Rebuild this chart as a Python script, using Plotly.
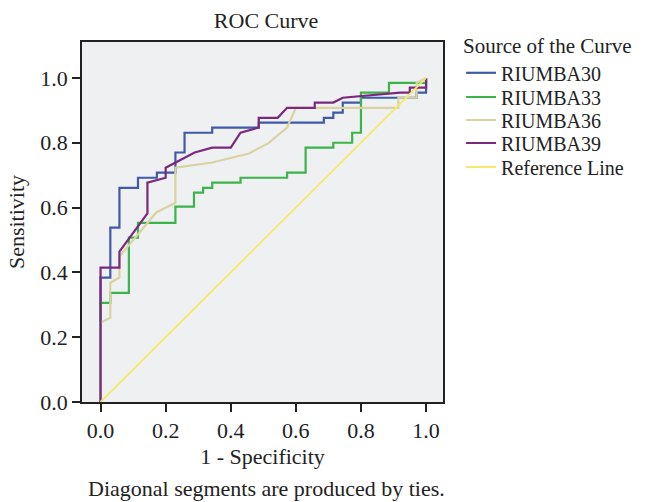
import plotly.graph_objects as go

# ROC curve data (1 - Specificity, Sensitivity)
riumba30_x = [0, 0, 0.03, 0.03, 0.058, 0.058, 0.115, 0.115, 0.173, 0.173, 0.23, 0.23, 0.258, 0.258,
              0.343, 0.343, 0.486, 0.486, 0.686, 0.686, 0.715, 0.715, 0.744, 0.744, 0.8, 0.8, 0.971, 0.971, 1.0, 1.0]
riumba30_y = [0, 0.384, 0.384, 0.538, 0.538, 0.661, 0.661, 0.692, 0.692, 0.708, 0.708, 0.77, 0.77, 0.831,
              0.831, 0.847, 0.847, 0.862, 0.862, 0.877, 0.877, 0.893, 0.893, 0.924, 0.924, 0.939, 0.939, 0.955, 0.955, 1.0]

riumba33_x = [0, 0, 0.03, 0.03, 0.087, 0.087, 0.115, 0.115, 0.23, 0.23, 0.287, 0.287, 0.315, 0.315,
              0.343, 0.343, 0.43, 0.43, 0.573, 0.573, 0.63, 0.63, 0.715, 0.715, 0.773, 0.773, 0.8, 0.8,
              0.886, 0.886, 1.0, 1.0]
riumba33_y = [0, 0.306, 0.306, 0.337, 0.337, 0.507, 0.507, 0.553, 0.553, 0.603, 0.603, 0.646, 0.646, 0.661,
              0.661, 0.677, 0.677, 0.692, 0.692, 0.708, 0.708, 0.785, 0.785, 0.8, 0.8, 0.831, 0.831, 0.955,
              0.955, 0.985, 0.985, 1.0]

riumba36_x = [0, 0, 0.03, 0.03, 0.058, 0.058, 0.171, 0.23, 0.23, 0.343, 0.456, 0.515, 0.573, 0.6,
              0.915, 0.915, 0.971, 0.971, 1.0]
riumba36_y = [0, 0.245, 0.26, 0.368, 0.384, 0.449, 0.585, 0.615, 0.723, 0.739, 0.767, 0.798, 0.847, 0.908,
              0.908, 0.939, 0.939, 0.985, 1.0]

riumba39_x = [0, 0, 0.058, 0.058, 0.144, 0.144, 0.2, 0.2, 0.289, 0.343, 0.4, 0.43, 0.486, 0.486, 0.544,
              0.573, 0.658, 0.658, 0.715, 0.744, 0.92, 0.95, 0.95, 1.0, 1.0]
riumba39_y = [0, 0.415, 0.415, 0.464, 0.582, 0.677, 0.692, 0.723, 0.77, 0.785, 0.785, 0.831, 0.847, 0.877, 0.877,
              0.908, 0.908, 0.924, 0.924, 0.939, 0.955, 0.955, 0.97, 0.97, 1.0]

ref_x = [0, 1]
ref_y = [0, 1]

series_names = ["RIUMBA30", "RIUMBA33", "RIUMBA36", "RIUMBA39", "Reference Line"]

tick_vals = [0.0, 0.2, 0.4, 0.6, 0.8, 1.0]
tick_text = ["0.0", "0.2", "0.4", "0.6", "0.8", "1.0"]

FONT = "Liberation Serif"
FS = 22
LFS = 20
TXT = "#222"

fig = go.Figure()
series = [
    (riumba30_x, riumba30_y, "#3f5aa8", 2.2),
    (riumba33_x, riumba33_y, "#3bb449", 2.2),
    (riumba36_x, riumba36_y, "#d9d3a1", 2.2),
    (riumba39_x, riumba39_y, "#7a2a7e", 2.2),
    (ref_x, ref_y, "#f3ea6a", 1.8),
]
legend_ids = ["legend", "legend2", "legend3", "legend4", "legend5"]
for name, (xs, ys, col, w), lg in zip(series_names, series, legend_ids):
    fig.add_trace(go.Scatter(x=xs, y=ys, mode="lines", name=name,
                             line=dict(color=col, width=w), legend=lg))

axis_common = dict(
    showline=True, linecolor=TXT, linewidth=1.5, mirror=True,
    ticks="outside", ticklen=8, tickwidth=1.5, tickcolor=TXT,
    showgrid=False, zeroline=False,
    tickvals=tick_vals, ticktext=tick_text,
    tickfont=dict(family=FONT, size=FS, color=TXT),
)

# plot area: top 42px, bottom 402px (height 360)
def ypaper(py):
    return (402 - py) / 360.0

LEG_X = 1.05
legend_common = dict(x=LEG_X, xanchor="left", bgcolor="rgba(0,0,0,0)", itemwidth=30,
                     font=dict(family=FONT, size=LFS, color=TXT))
item_centers = [72, 97, 120, 143, 167]

layout_legends = {}
layout_legends["legend"] = dict(
    y=ypaper(26), yanchor="top",
    title=dict(text="Source of the Curve", font=dict(family=FONT, size=LFS + 1, color=TXT)),
    **legend_common)
for lg, cy in zip(legend_ids[1:], item_centers[1:]):
    layout_legends[lg] = dict(y=ypaper(cy), yanchor="middle", **legend_common)

fig.update_layout(
    width=653, height=502,
    margin=dict(l=82, r=210, t=42, b=100),
    paper_bgcolor="white", plot_bgcolor="#eff0f2",
    font=dict(family=FONT, size=FS, color=TXT),
    title=dict(text="ROC Curve", x=0.51, xref="paper", xanchor="center",
               y=1 - 20 / 502, yref="container", yanchor="middle",
               font=dict(family=FONT, size=FS, color=TXT)),
    xaxis=dict(range=[-0.057, 1.052], title=dict(text="1 - Specificity", standoff=6,
               font=dict(family=FONT, size=FS, color=TXT)), **axis_common),
    yaxis=dict(range=[0, 1.111], title=dict(text="Sensitivity", standoff=10,
               font=dict(family=FONT, size=FS, color=TXT)), **axis_common),
    showlegend=True,
    **layout_legends,
)

fig.add_annotation(text="Diagonal segments are produced by ties.", xref="paper", yref="paper",
                   x=0.51, y=ypaper(488), xanchor="center", yanchor="middle", showarrow=False,
                   font=dict(family=FONT, size=FS, color=TXT))

fig.write_html("out.html")
